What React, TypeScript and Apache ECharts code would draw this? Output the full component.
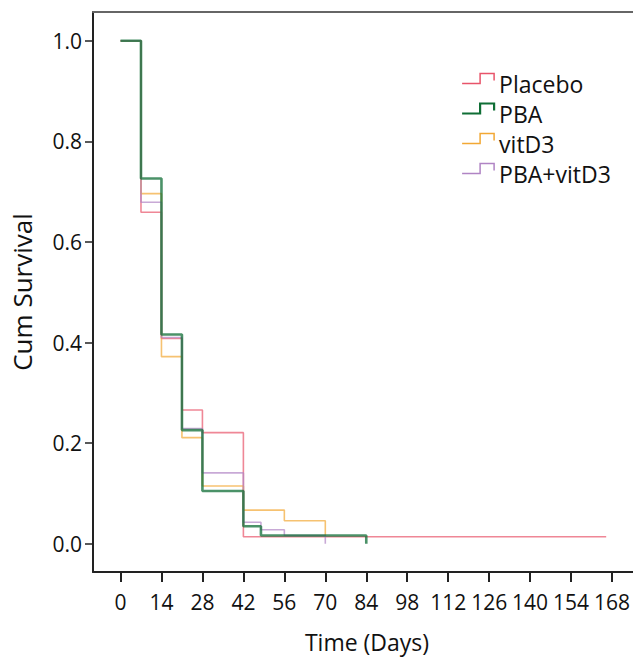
import React, { useEffect, useRef } from "react";
import * as echarts from "echarts";

const seriesNames = ["Placebo", "PBA", "vitD3", "PBA+vitD3"];
const colors = ["#e8546a", "#0f6e35", "#f2a834", "#b084c4"];

// [day, cumulative survival]
const placebo: [number, number][] = [[0, 1], [7, 0.659], [14, 0.408], [21, 0.266], [28, 0.221], [42, 0.014], [166, 0.014]];
const pba: [number, number][] = [[0, 1], [7, 0.726], [14, 0.416], [21, 0.226], [28, 0.105], [42, 0.035], [48, 0.0165], [84, 0]];
const vitD3: [number, number][] = [[0, 1], [7, 0.696], [14, 0.372], [21, 0.211], [28, 0.115], [42, 0.067], [56, 0.046], [70, 0.0165]];
const pbaVitD3: [number, number][] = [[0, 1], [7, 0.679], [14, 0.41], [21, 0.229], [28, 0.141], [42, 0.043], [48, 0.028], [56, 0.0165], [70, 0]];

const xTicks = [0, 14, 28, 42, 56, 70, 84, 98, 112, 126, 140, 154, 168];
const yTicks = [0, 0.2, 0.4, 0.6, 0.8, 1.0];

const FONT = "Open Sans";
const INK = "#111";

export default function App() {
  const ref = useRef<HTMLDivElement>(null);
  useEffect(() => {
    if (!ref.current) return;
    const chart = echarts.init(ref.current, undefined, { renderer: "svg" });
    const dataSets = [placebo, pba, vitD3, pbaVitD3];
    const drawOrder = [0, 2, 3, 1];
    const iconPath = "path://M0,10 L18,10 L18,0 L32,0 L32,7 M32,21";
    chart.setOption({
      animation: false,
      backgroundColor: "#ffffff",
      textStyle: { fontFamily: FONT },
      grid: { left: 93, right: 0, top: 12, bottom: 86, containLabel: false, outerBoundsMode: "none" },
      legend: {
        orient: "vertical",
        left: 461,
        top: 69,
        padding: 0,
        itemGap: 0,
        itemWidth: 32,
        itemHeight: 21,
        icon: iconPath,
        textStyle: { fontFamily: FONT, fontSize: 23, lineHeight: 30, color: INK },
        data: seriesNames.map((n, i) => ({
          name: n,
          itemStyle: { color: "rgba(0,0,0,0)", borderColor: colors[i], borderWidth: i === 1 ? 2.2 : 1.5 },
        })),
      },
      xAxis: [
        {
          type: "value",
          min: -9.4,
          max: 177.9,
          name: "Time (Days)",
          nameLocation: "middle",
          nameGap: 58,
          nameTextStyle: { fontFamily: FONT, fontSize: 23, color: INK },
          axisLine: { show: true, onZero: false, lineStyle: { color: "#222", width: 2 } },
          axisTick: { show: true, customValues: xTicks, length: 10, lineStyle: { color: "#222", width: 2 } },
          axisLabel: { customValues: xTicks, fontSize: 21, margin: 19, color: INK, fontFamily: FONT },
          splitLine: { show: false },
        },
        {
          type: "value",
          position: "top",
          min: -9.4,
          max: 177.9,
          axisLine: { show: true, onZero: false, lineStyle: { color: "#666", width: 2 } },
          axisTick: { show: false },
          axisLabel: { show: false },
          splitLine: { show: false },
        },
      ],
      yAxis: {
        type: "value",
        min: -0.056,
        max: 1.057,
        name: "Cum Survival",
        nameLocation: "middle",
        nameGap: 58,
        nameTextStyle: { fontFamily: FONT, fontSize: 26, color: INK },
        axisLine: { show: true, onZero: false, lineStyle: { color: "#222", width: 2 } },
        axisTick: { show: true, customValues: yTicks, length: 8, lineStyle: { color: "#222", width: 1.5 } },
        axisLabel: {
          customValues: yTicks,
          fontSize: 21,
          margin: 11,
          color: INK,
          fontFamily: FONT,
          formatter: (v: number) => v.toFixed(1),
        },
        splitLine: { show: false },
      },
      series: drawOrder.map((i) => ({
        name: seriesNames[i],
        type: "line",
        step: "end",
        xAxisIndex: 0,
        data: dataSets[i],
        showSymbol: false,
        symbol: "none",
        color: colors[i],
        lineStyle: { color: colors[i], width: i === 1 ? 2.6 : 1.6, opacity: i === 1 ? 0.75 : 0.7 },
      })),
    });
    return () => chart.dispose();
  }, []);
  return <div ref={ref} style={{ position: "fixed", left: 0, top: 0, width: 641, height: 658 }} />;
}
